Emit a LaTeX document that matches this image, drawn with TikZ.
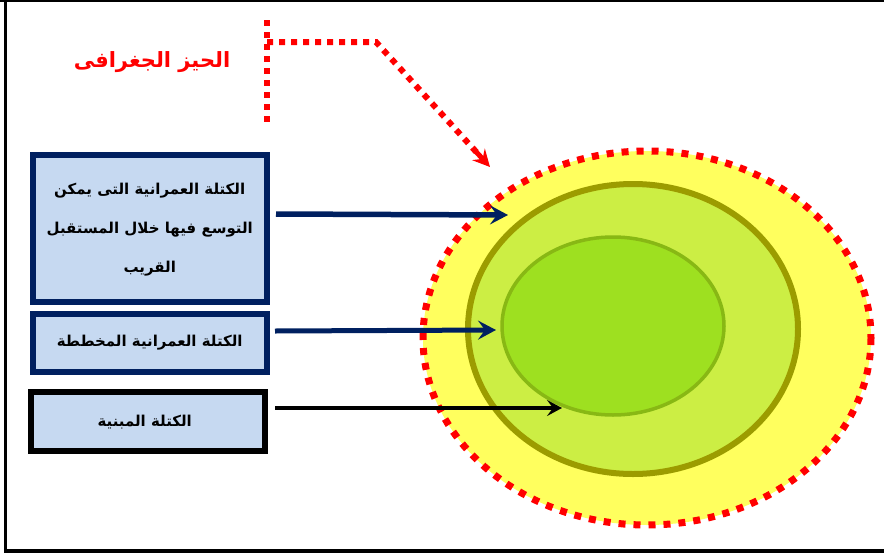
\documentclass[tikz,border=0pt]{standalone}
\usepackage{fontspec}
\usetikzlibrary{arrows.meta,calc}
\TeXXeTstate=1
\newfontfamily\arabicfont[Script=Arabic]{DejaVu Sans}
\definecolor{boxblue}{HTML}{002060}
\definecolor{boxfill}{HTML}{C6D9F1}
\definecolor{outerfill}{HTML}{FFFF5E}
\definecolor{midfill}{HTML}{CCEE44}
\definecolor{midline}{HTML}{9C9C00}
\definecolor{innerfill}{HTML}{9EE020}
\definecolor{innerline}{HTML}{88B814}
\definecolor{redline}{HTML}{FF0000}
\tikzset{
  labelbox/.style={draw=boxblue, fill=boxfill, line width=5.5pt, inner sep=0pt, anchor=north west},
  labeltext/.style={font=\arabicfont\bfseries\fontsize{15}{39}\selectfont, align=center, text=black},
  bluearrow/.style={draw=boxblue, line width=5.5pt, -{Stealth[length=18pt,width=19pt,inset=7pt]}},
  blackarrow/.style={draw=black, line width=4pt, -{Stealth[length=15pt,width=16pt,inset=6pt]}},
  reddots/.style={draw=redline, line width=6pt, dash pattern=on 6pt off 6pt},
}
\begin{document}
\begin{tikzpicture}[x=1pt,y=-1pt]
\useasboundingbox (0,0) rectangle (884,555);
% frame
\draw[line width=3.5pt] (5.5,-5) -- (5.5,551) -- (890,551);
\draw[line width=3pt] (-5,0.5) -- (890,0.5);
% ellipses
\fill[outerfill] (647,338) ellipse [x radius=224, y radius=187];
\draw[reddots, line width=7pt, dash pattern=on 7pt off 8pt] (647,338) ellipse [x radius=224, y radius=187];
\draw[midline, fill=midfill, line width=6pt] (633,329) ellipse [x radius=165, y radius=145];
\draw[innerline, fill=innerfill, line width=3.5pt] (613,326) ellipse [x radius=111, y radius=89];
\coordinate (t1) at (508,215);
\coordinate (t2) at (496,330);
\coordinate (t3) at (562,408);
% boxes
\node[labelbox, minimum width=234pt, minimum height=147pt] (b1) at (30,152) {};
\node[labeltext] at ([yshift=-1pt]b1.center) {\beginR الكتلة العمرانية التى يمكن\endR\\\beginR التوسع فيها خلال المستقبل\endR\\\beginR القريب\endR};
\node[labelbox, minimum width=234pt, minimum height=58pt] (b2) at (30,311) {};
\node[labeltext] at (b2.center) {\beginR الكتلة العمرانية المخططة\endR};
\node[labelbox, draw=black, minimum width=234pt, minimum height=59pt] (b3) at (28,389) {};
\node[labeltext] at ([xshift=-3pt,yshift=-1pt]b3.center) {\beginR الكتلة المبنية\endR};
% arrows
\coordinate (s1) at (276,214);
\coordinate (s2) at (275,331);
\coordinate (s3) at (275,408);
\draw[bluearrow] (s1) -- (t1);
\draw[bluearrow, line width=5pt] (s2) -- (t2);
\draw[blackarrow] (s3) -- (t3);
% title
\node[font=\arabicfont\bfseries\fontsize{21}{24}\selectfont, text=redline] (title) at (152,62) {\beginR الحيز الجغرافى\endR};
% red dotted pointer
\coordinate (p0) at (267,20);
\coordinate (p1) at (267,42);
\coordinate (p2) at (376,42);
\coordinate (p3) at (490,167);
\draw[reddots] (p0) -- (267,123);
\draw[reddots] (p1) -- (p2) -- ($(p2)!0.9!(p3)$);
\draw[redline, line width=5pt, -{Stealth[length=17pt,width=17pt,inset=6pt]}] ($(p2)!0.85!(p3)$) -- (p3);
\end{tikzpicture}
\end{document}
